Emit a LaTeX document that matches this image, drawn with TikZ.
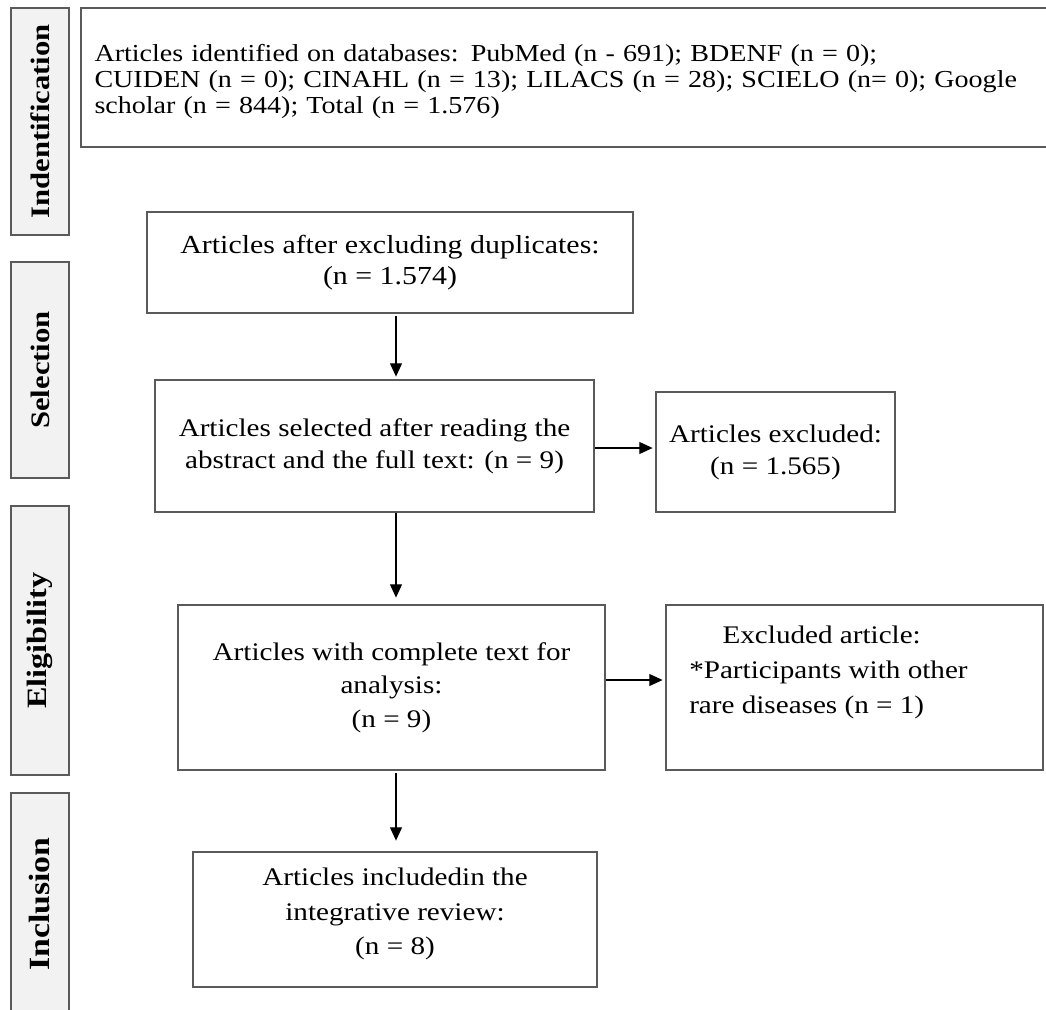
\documentclass[tikz,border=0pt]{standalone}
\usepackage{fontspec}
\setmainfont{Liberation Serif}[FakeStretch=1.15]
\usetikzlibrary{arrows.meta}
\definecolor{sidefill}{HTML}{F2F2F2}
\definecolor{boxline}{HTML}{5A5A5A}
\tikzset{
  boxnode/.style={draw=boxline, line width=1.1pt, fill=white, inner sep=0pt, align=center,
    font=\fontsize{19}{25}\selectfont},
  sidebox/.style={draw=boxline, line width=1.1pt, fill=sidefill, inner sep=0pt, rotate=90,
    minimum height=43.5pt, font=\bfseries\fontsize{20}{22}\selectfont},
  arr/.style={draw=black, line width=0.9pt, -{Triangle[width=9pt,length=10pt]}}
}
\begin{document}
\begin{tikzpicture}[x=0.75pt,y=-0.75pt]
\useasboundingbox (0,0) rectangle (1046,1010);
% side labels
\node[sidebox, minimum width=170.25pt] (sid) at (40,121.5) {Indentification};
\node[sidebox, minimum width=162pt] (ssel) at (40,370) {Selection};
\node[sidebox, minimum width=201.75pt, font=\bfseries\fontsize{21}{22}\selectfont] (seli) at (40,640.5) {Eligibility};
\node[sidebox, minimum width=166.5pt, font=\bfseries\fontsize{22}{24}\selectfont] (sinc) at (40,904) {Inclusion};
% boxes
\node[boxnode, minimum width=728.25pt, minimum height=104.25pt, align=left,
  text width=708pt, font=\fontsize{18.3}{19.8}\selectfont] (top) at (566.5,77.5)
  {\rule{0pt}{19pt}Articles identified on databases: PubMed (n - 691); BDENF (n = 0);\\
   CUIDEN (n = 0); CINAHL (n = 13); LILACS (n = 28); SCIELO (n= 0); Google\\
   scholar (n = 844); Total (n = 1.576)};
\node[boxnode, minimum width=364.5pt, minimum height=75.75pt, font=\fontsize{19.5}{23.5}\selectfont] (b2) at (390,262.5)
  {Articles after excluding duplicates:\\(n = 1.574)};
\node[boxnode, minimum width=329.25pt, minimum height=99pt, font=\fontsize{19}{24}\selectfont] (b3) at (374.5,446)
  {Articles selected after reading the\\abstract and the full text: (n = 9)};
\node[boxnode, minimum width=179.25pt, minimum height=90pt, font=\fontsize{19}{24}\selectfont] (ex1) at (775.5,452)
  {Articles excluded:\\(n = 1.565)};
\node[boxnode, minimum width=320.25pt, minimum height=123.75pt] (b4) at (391.5,687.5)
  {Articles with complete text for\\analysis:\\(n = 9)};
\node[boxnode, minimum width=282.75pt, minimum height=123.75pt] (ex2) at (854.5,687.5) {};
\node[anchor=north west, align=left, inner sep=0pt, font=\fontsize{19}{26}\selectfont]
  (ex2txt) at (689,626)
  {\hspace*{25pt}Excluded article:\\*Participants with other\\rare diseases (n = 1)};
\node[boxnode, minimum width=303pt, minimum height=101.25pt, font=\fontsize{19}{26}\selectfont] (b5) at (395,919.5)
  {Articles includedin the\\integrative review:\\(n = 8)\rule[-12pt]{0pt}{0pt}};
% arrows
\coordinate (ax) at (396,0);
\draw[arr] ([yshift=-2pt]b2.south -| ax) -- ([yshift=2pt]b3.north -| ax);
\draw[arr] (b3.south -| ax) -- ([yshift=5pt]b4.north -| ax);
\draw[arr] ([yshift=-2pt]b4.south -| ax) -- ([yshift=8pt]b5.north -| ax);
\draw[arr] (b3.east |- 0,448) -- ([xshift=-2pt]ex1.west |- 0,448);
\draw[arr] (b4.east |- 0,680) -- ([xshift=-2pt]ex2.west |- 0,680);
\end{tikzpicture}
\end{document}
